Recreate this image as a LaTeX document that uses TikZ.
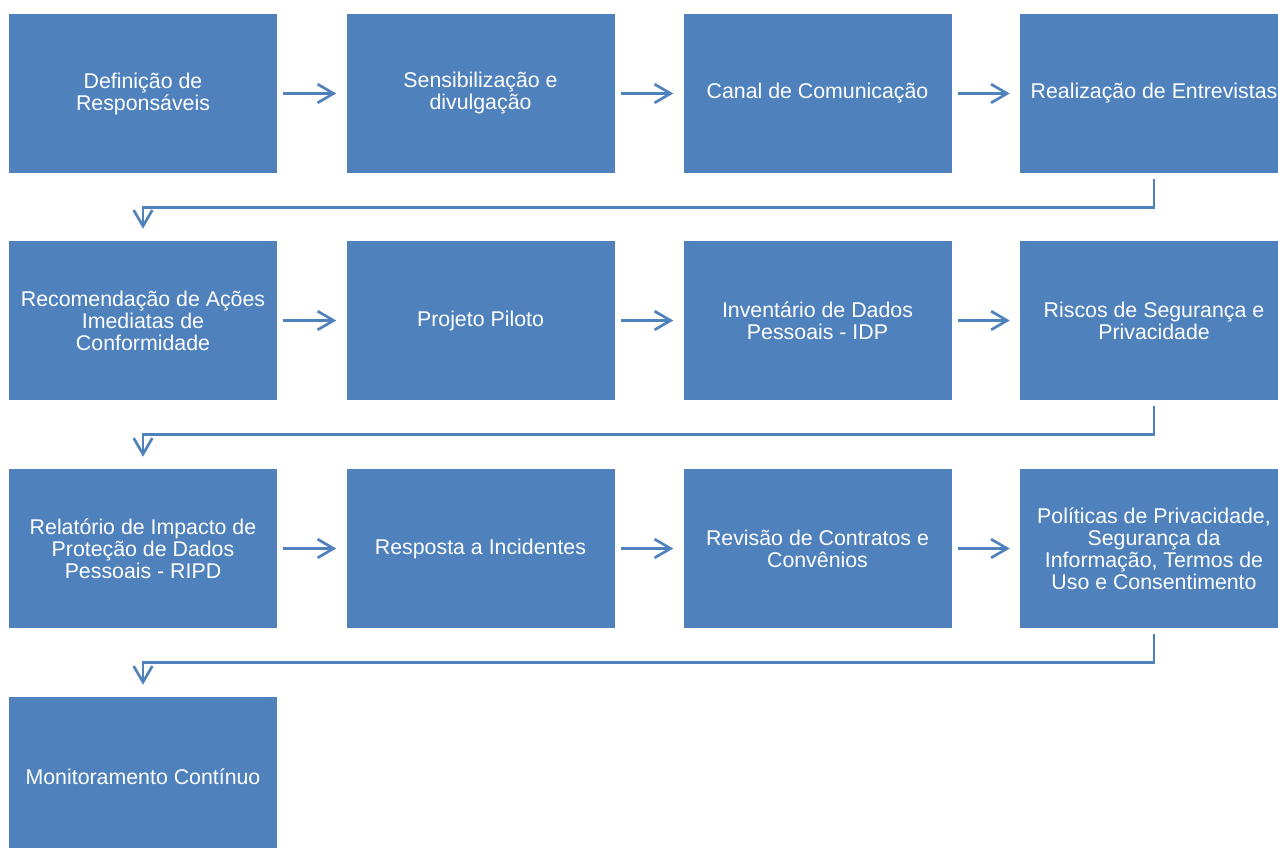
\documentclass[tikz,border=0pt]{standalone}
\usepackage{fontspec}
\setmainfont{Liberation Sans}
\usetikzlibrary{calc,positioning,arrows.meta}
\definecolor{boxblue}{HTML}{4F81BD}
\begin{document}
\begin{tikzpicture}[x=0.75pt,y=-0.75pt,
  etapa/.style={fill=boxblue,text=white,minimum width=201pt,minimum height=119.25pt,inner sep=0pt,align=center,font=\fontsize{16}{16.5}\selectfont},
  fluxo/.style={draw=boxblue,line width=2pt,-{Straight Barb[length=12pt,width=14pt]}},
  seta/.style={fluxo,shorten <=4.5pt,shorten >=7.5pt}]
\useasboundingbox(0,0)rectangle(1278,847);
\node[etapa](a1)at(143,93.5){Definição de\\Responsáveis};
\node[etapa](a2)at(480.5,93.5){Sensibilização e\\divulgação};
\node[etapa](a3)at(817.5,93.5){Canal de Comunicação};
\node[etapa](a4)at(1154,93.5){Realização de Entrevistas};
\node[etapa](b1)at(143,320.5){Recomendação de Ações\\Imediatas de\\Conformidade};
\node[etapa](b2)at(480.5,320.5){Projeto Piloto};
\node[etapa](b3)at(817.5,320.5){Inventário de Dados\\Pessoais - IDP};
\node[etapa](b4)at(1154,320.5){Riscos de Segurança e\\Privacidade};
\node[etapa](c1)at(143,548.5){Relatório de Impacto de\\Proteção de Dados\\Pessoais - RIPD};
\node[etapa](c2)at(480.5,548.5){Resposta a Incidentes};
\node[etapa](c3)at(817.5,548.5){Revisão de Contratos e\\Convênios};
\node[etapa](c4)at(1154,548.5){Políticas de Privacidade,\\Segurança da\\Informação, Termos de\\Uso e Consentimento};
\node[etapa](d1)at(143,776.5){Monitoramento Contínuo};
\draw[seta](a1)--(a2);
\draw[seta](a2)--(a3);
\draw[seta](a3)--(a4);
\draw[seta](b1)--(b2);
\draw[seta](b2)--(b3);
\draw[seta](b3)--(b4);
\draw[seta](c1)--(c2);
\draw[seta](c2)--(c3);
\draw[seta](c3)--(c4);
\draw[fluxo]([yshift=-4.5pt]a4.south)--++(0,-21pt)-|([yshift=9pt]b1.north);
\draw[fluxo]([yshift=-4.5pt]b4.south)--++(0,-21pt)-|([yshift=9pt]c1.north);
\draw[fluxo]([yshift=-4.5pt]c4.south)--++(0,-21pt)-|([yshift=9pt]d1.north);
\end{tikzpicture}
\end{document}
